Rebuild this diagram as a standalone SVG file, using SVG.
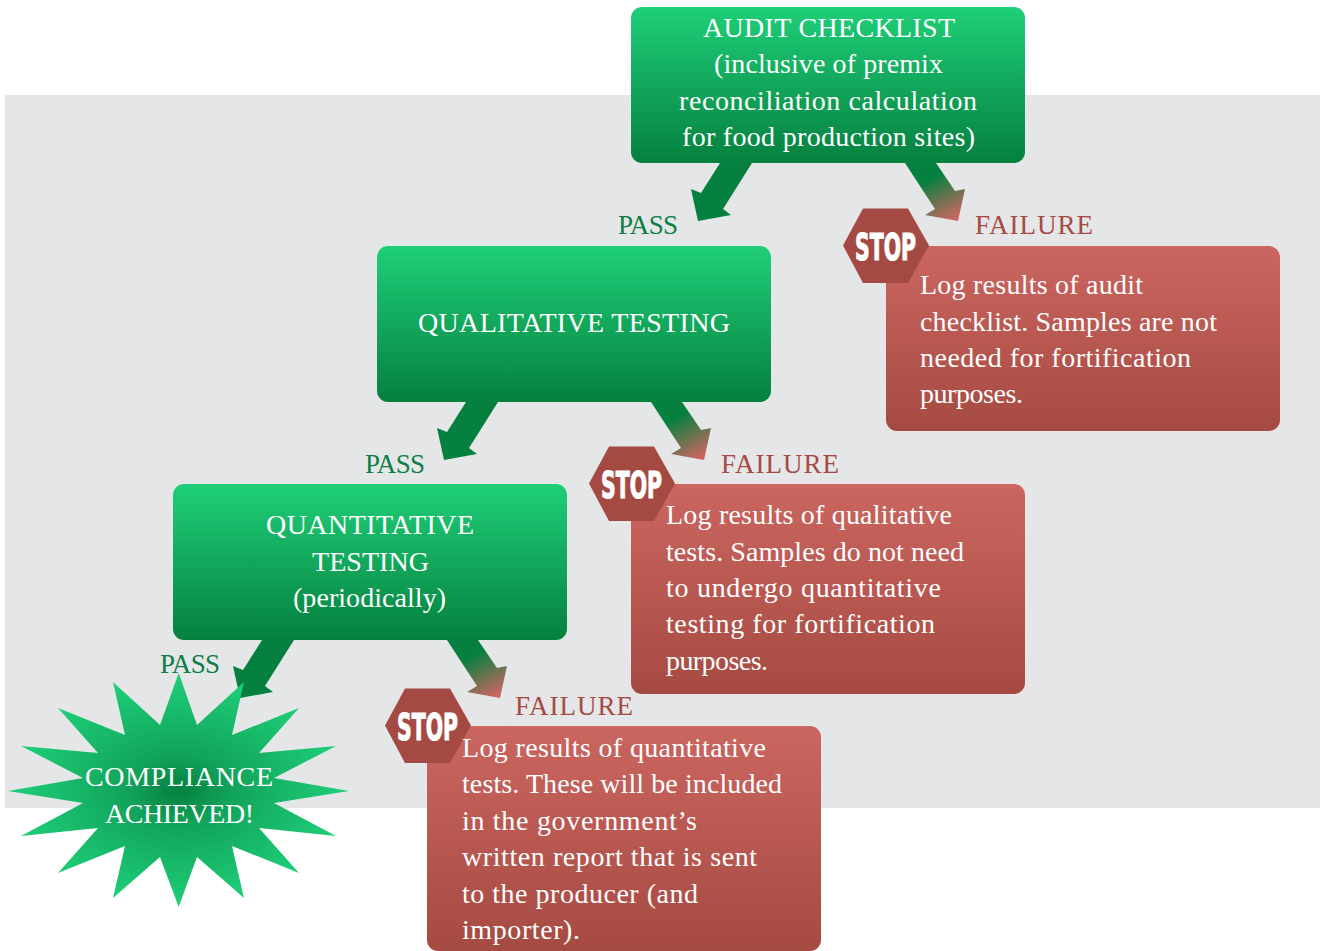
<svg xmlns="http://www.w3.org/2000/svg" width="1320" height="951" viewBox="0 0 1320 951">
<style>
text{font-family:"Liberation Serif","Times New Roman",serif;font-size:28px;fill:#fff}
.pass{fill:#0d7f46;font-size:27px}
.fail{fill:#a54a42;font-size:27px}
.stop{font-family:"DejaVu Sans",sans-serif;font-weight:700;font-size:38px;stroke:#fff;stroke-width:1.2px;stroke-linejoin:miter}
.hex{fill:#a54a42}
.g{fill:url(#green)}
.r{fill:url(#red)}
.ap{fill:#05803f}
.af{fill:url(#fade)}
</style>
<defs>
<linearGradient id="green" x1="0" y1="0" x2="0" y2="1"><stop offset="0" stop-color="#1fcf78"/><stop offset="1" stop-color="#05803f"/></linearGradient>
<linearGradient id="red" x1="0" y1="0" x2="0" y2="1"><stop offset="0" stop-color="#cb6660"/><stop offset="1" stop-color="#a54a42"/></linearGradient>
<linearGradient id="fade" x1="0.25" y1="0.1" x2="0.75" y2="1"><stop offset="0.22" stop-color="#05803f"/><stop offset="1" stop-color="#cb6660"/></linearGradient>
<radialGradient id="burst" cx="0.5" cy="0.5" r="0.5"><stop offset="0" stop-color="#05803f"/><stop offset="0.3" stop-color="#11a35b"/><stop offset="1" stop-color="#1fcf78"/></radialGradient>
<path id="arrowPass" d="M720 163H752L723 209L731 215L698 221L691 189L701 193Z"/>
<path id="arrowFail" d="M905 163H936L955 191L965 189L958 221L925 215L935 209Z"/>
<g id="stopSign"><path class="hex" d="M843 245.500L863 208.500H908L929 245.500L908 283H863Z"/></g>
</defs>
<rect id="backdrop" x="5" y="95" width="1315" height="713" fill="#e5e6e8"/>
<g id="connectors">
<use href="#arrowPass" class="ap"/>
<use href="#arrowFail" class="af"/>
<use href="#arrowPass" class="ap" x="-254" y="239"/>
<use href="#arrowFail" class="af" x="-254" y="239"/>
<use href="#arrowPass" class="ap" x="-458" y="477"/>
<use href="#arrowFail" class="af" x="-458" y="477"/>
</g>
<g id="node-audit">
<rect class="g" x="631" y="7" width="394" height="156" rx="11"/>
<text x="703" y="37.300" textLength="252">AUDIT CHECKLIST</text>
<text x="714" y="73.300" textLength="229">(inclusive of premix</text>
<text x="679" y="109.800" textLength="298">reconciliation calculation</text>
<text x="682" y="146.300" textLength="293">for food production sites)</text>
</g>
<g id="node-qualitative">
<rect class="g" x="377" y="246" width="394" height="156" rx="11"/>
<text x="418" y="332.300" textLength="312">QUALITATIVE TESTING</text>
</g>
<g id="node-quantitative">
<rect class="g" x="173" y="484" width="394" height="156" rx="11"/>
<text x="266" y="534.300" textLength="208">QUANTITATIVE</text>
<text x="312" y="571.300" textLength="117">TESTING</text>
<text x="293" y="607.300" textLength="153">(periodically)</text>
</g>
<g id="node-compliance">
<path fill="url(#burst)" d="M178.700 673L197 725L244 682L232 735L299 708L259 753L336 746L274 778L349 791L274 803L336 836L259 828L299 873L232 846L244 898L197 857L178.700 907L160 857L113 898L125 846L58 873L98 828L21 836L83 803L8 791L83 778L21 746L98 753L58 708L125 735L113 682L160 725Z"/>
<text x="85" y="786.300" textLength="188">COMPLIANCE</text>
<text x="105" y="823.300" textLength="149">ACHIEVED!</text>
</g>
<g id="node-fail-audit">
<rect class="r" x="886" y="246" width="394" height="185" rx="11"/>
<use href="#stopSign"/>
<text class="stop" x="855" y="259.800" textLength="61" lengthAdjust="spacingAndGlyphs">STOP</text>
<text x="920" y="294.300" textLength="223">Log results of audit</text>
<text x="920" y="330.800" textLength="297">checklist. Samples are not</text>
<text x="920" y="367.300" textLength="271">needed for fortification</text>
<text x="920" y="403.300" textLength="103">purposes.</text>
</g>
<g id="node-fail-qualitative">
<rect class="r" x="631" y="484" width="394" height="210" rx="11"/>
<use href="#stopSign" x="-254" y="238"/>
<text class="stop" x="601" y="497.800" textLength="61" lengthAdjust="spacingAndGlyphs">STOP</text>
<text x="666" y="524.300" textLength="286">Log results of qualitative</text>
<text x="666" y="561.300" textLength="298">tests. Samples do not need</text>
<text x="666" y="597.300" textLength="275">to undergo quantitative</text>
<text x="666" y="633.300" textLength="269">testing for fortification</text>
<text x="666" y="670.300" textLength="102">purposes.</text>
</g>
<g id="node-fail-quantitative">
<rect class="r" x="427" y="726" width="394" height="225" rx="11"/>
<use href="#stopSign" x="-458" y="480"/>
<text class="stop" x="397" y="739.800" textLength="61" lengthAdjust="spacingAndGlyphs">STOP</text>
<text x="462" y="757.300" textLength="304">Log results of quantitative</text>
<text x="462" y="793.300" textLength="320">tests. These will be included</text>
<text x="462" y="830.300" textLength="235">in the government’s</text>
<text x="462" y="866.300" textLength="295">written report that is sent</text>
<text x="462" y="903.300" textLength="236">to the producer (and</text>
<text x="462" y="939.300" textLength="118">importer).</text>
</g>
<g id="labels">
<text class="pass" x="618" y="234.300" textLength="60">PASS</text>
<text class="pass" x="365" y="473.300" textLength="60">PASS</text>
<text class="pass" x="160" y="673.300" textLength="60">PASS</text>
<text class="fail" x="975" y="234.300" textLength="118">FAILURE</text>
<text class="fail" x="721" y="473.300" textLength="118">FAILURE</text>
<text class="fail" x="515" y="715.300" textLength="118">FAILURE</text>
</g>
</svg>
